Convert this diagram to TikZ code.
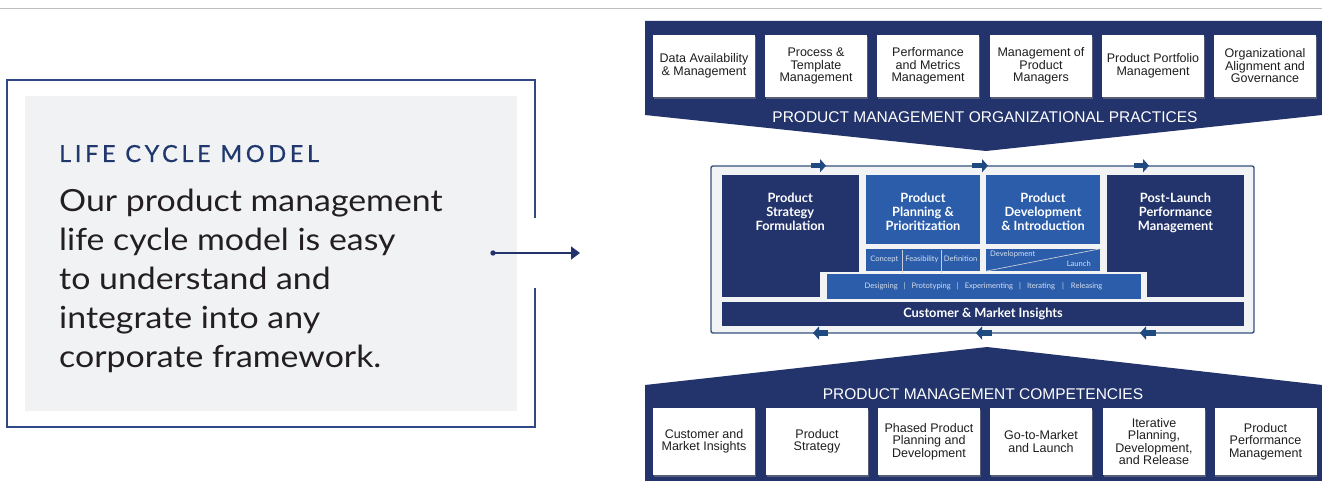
\documentclass[tikz,border=0pt]{standalone}
\usepackage{fontspec}
\setmainfont{Liberation Sans}
\newfontfamily\lato{Lato}
\newfontfamily\latowide[FakeStretch=1.11]{Lato}
\newfontfamily\latospaced[LetterSpace=15.5,FakeBold=0.6]{Lato}
\usetikzlibrary{shadows,arrows.meta}
\definecolor{navy}{RGB}{35,51,107}
\definecolor{midblue}{RGB}{43,93,170}
\definecolor{arrowblue}{RGB}{30,74,128}
\definecolor{framecol}{RGB}{52,82,128}
\definecolor{lightfill}{RGB}{242,243,245}
\definecolor{panelfill}{RGB}{241,242,244}
\definecolor{titleblue}{RGB}{32,56,110}
\definecolor{bodytext}{RGB}{35,31,32}
\definecolor{smalltext}{RGB}{214,223,238}
\definecolor{divcol}{RGB}{200,205,215}
\definecolor{boxtext}{RGB}{30,30,30}
\definecolor{panelframe}{RGB}{48,72,135}
\tikzset{
  wbox/.style={fill=white, inner sep=0pt, align=center, text=boxtext,
    font=\fontsize{12.5}{12.5}\selectfont, minimum width=102pt,
    drop shadow={shadow xshift=0.6pt, shadow yshift=-1.6pt, opacity=0.55}},
  topbox/.style={wbox, minimum height=62pt},
  botbox/.style={wbox, minimum height=67pt},
  bandtitle/.style={text=white, inner sep=0pt, font=\fontsize{15.5}{15.5}\selectfont},
  block/.style={inner sep=0pt, draw=none},
  blocktext/.style={text=white, inner sep=0pt, align=center,
    font=\lato\bfseries\fontsize{12.8}{14}\selectfont},
  smalllabel/.style={text=smalltext, inner sep=0pt, font=\lato\fontsize{7.6}{8}\selectfont},
  flowarrow/.style={draw=arrowblue, line width=5.5pt, -{Triangle[length=6pt,width=13pt]}},
}
\begin{document}
\begin{tikzpicture}[x=1pt,y=-1pt]
\useasboundingbox (0,0) rectangle (1322,481);
% top rule
\draw[black!25, line width=0.9pt] (0,8.5) -- (1322,8.5);

% ---------- left panel ----------
\draw[panelframe, line width=1.1pt] (535,218) -- (535,80) -- (7,80) -- (7,427) -- (535,427) -- (535,288);
\fill[panelfill] (25,96) rectangle (517,411);
\node[anchor=base west, inner sep=0pt, text=titleblue, font=\latospaced\fontsize{23.5}{23.5}\selectfont] (lcm) at (59,162) {LIFE CYCLE MODEL};
\node[anchor=north west, inner sep=0pt, align=left, text=bodytext, font=\latowide\fontsize{30.5}{39}\selectfont] (body) at (59,188.5)
  {Our product management\\life cycle model is easy\\to understand and\\integrate into any\\corporate framework.};
\coordinate (ldot) at (493,253);
\coordinate (ltip) at (580,253);
\fill[navy] (ldot) circle (2.7);
\draw[navy, line width=1.6pt, -{Triangle[length=9pt,width=13pt]}] (ldot) -- (ltip);

% ---------- top band ----------
\fill[navy] (645,21) -- (1322,21) -- (1322,115) -- (986,151) -- (645,115) -- cycle;
\node[topbox] (t1) at (704,66) {Data Availability\\\& Management};
\node[topbox] (t2) at (816,66) {Process \&\\Template\\Management};
\node[topbox] (t3) at (928,66) {Performance\\and Metrics\\Management};
\node[topbox] (t4) at (1041,66) {Management of\\Product\\Managers};
\node[topbox] (t5) at (1153,66) {Product Portfolio\\Management};
\node[topbox] (t6) at (1265,66) {Organizational\\Alignment and\\Governance};
\node[bandtitle] (toptitle) at (985,117) {PRODUCT MANAGEMENT ORGANIZATIONAL PRACTICES};

% ---------- bottom band ----------
\fill[navy] (645,385) -- (987,347) -- (1322,385) -- (1322,481) -- (645,481) -- cycle;
\node[bandtitle] (bottitle) at (983,394) {PRODUCT MANAGEMENT COMPETENCIES};
\node[botbox] (b1) at (704,441.5) {Customer and\\Market Insights};
\node[botbox] (b2) at (817,441.5) {Product\\Strategy};
\node[botbox] (b3) at (929,441.5) {Phased Product\\Planning and\\Development};
\node[botbox] (b4) at (1041,441.5) {Go-to-Market\\and Launch};
\node[botbox] (b5) at (1154,441.5) {Iterative\\Planning,\\Development,\\and Release};
\node[botbox] (b6) at (1265.5,441.5) {Product\\Performance\\Management};

% ---------- middle life cycle ----------
\draw[framecol, fill=lightfill, line width=1.4pt, rounded corners=2pt] (711,166) rectangle (1254,333);
\node[block, fill=navy, minimum width=136.5pt, minimum height=122pt] (psf) at (790.25,236) {};
\node[block, fill=midblue, minimum width=114pt, minimum height=69pt] (ppp) at (923,209.5) {};
\node[block, fill=midblue, minimum width=114pt, minimum height=69pt] (pdi) at (1043,209.5) {};
\node[block, fill=navy, minimum width=137pt, minimum height=122pt] (plp) at (1175.5,236) {};
\node[block, fill=midblue, minimum width=114pt, minimum height=22pt] (cfd) at (923,260) {};
\node[block, fill=midblue, minimum width=114pt, minimum height=22pt] (dvl) at (1043,260) {};
\fill[lightfill] (820,271.5) rectangle (1147,302);
\node[block, fill=midblue, minimum width=314.5pt, minimum height=25pt] (dsg) at (983.75,286.5) {};
\node[block, fill=navy, minimum width=522pt, minimum height=24pt, text=white,
  font=\lato\bfseries\fontsize{12.8}{14}\selectfont] (cmi) at (983,314) {Customer \& Market Insights};

\node[blocktext, anchor=north] (psft) at (790.25,192.5) {Product\\Strategy\\Formulation};
\node[blocktext, anchor=north] (pppt) at (923,192.5) {Product\\Planning \&\\Prioritization};
\node[blocktext, anchor=north] (pdit) at (1043,192.5) {Product\\Development\\\& Introduction};
\node[blocktext, anchor=north] (plpt) at (1175.5,192.5) {Post-Launch\\Performance\\Management};

% phase sub-strips
\draw[divcol, line width=0.6pt] (902.7,250) -- (902.7,273);
\draw[divcol, line width=0.6pt] (941.3,250) -- (941.3,273);
\node[smalllabel, anchor=base] (lc1) at (884.3,261.7) {Concept};
\node[smalllabel, anchor=base] (lc2) at (922,261.7) {Feasibility};
\node[smalllabel, anchor=base] (lc3) at (960.6,261.7) {Definition};
\draw[divcol, line width=0.7pt] (dvl.south west) -- (dvl.north east);
\node[smalllabel, anchor=base west] (ldev) at (990,256.7) {Development};
\node[smalllabel, anchor=base east] (llau) at (1091,266.7) {Launch};
\node[smalllabel, anchor=center] (ldsg) at (983.5,286.5)
  {Designing\hspace{6pt}|\hspace{6pt}Prototyping\hspace{6pt}|\hspace{6pt}Experimenting\hspace{6pt}|\hspace{6pt}Iterating\hspace{7pt}|\hspace{7pt}Releasing};

% flow arrows
\coordinate (ta1s) at (811,165.7); \coordinate (ta1e) at (826,165.7);
\coordinate (ta2s) at (972,165.7); \coordinate (ta2e) at (988,165.7);
\coordinate (ta3s) at (1134,165.7); \coordinate (ta3e) at (1149,165.7);
\coordinate (ba1s) at (828,333); \coordinate (ba1e) at (813,333);
\coordinate (ba2s) at (992,333); \coordinate (ba2e) at (976,333);
\coordinate (ba3s) at (1156,333); \coordinate (ba3e) at (1140,333);
\draw[flowarrow] (ta1s) -- (ta1e);
\draw[flowarrow] (ta2s) -- (ta2e);
\draw[flowarrow] (ta3s) -- (ta3e);
\draw[flowarrow] (ba1s) -- (ba1e);
\draw[flowarrow] (ba2s) -- (ba2e);
\draw[flowarrow] (ba3s) -- (ba3e);
\end{tikzpicture}
\end{document}
